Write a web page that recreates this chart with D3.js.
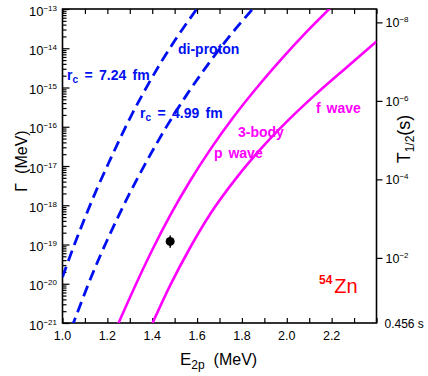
<!DOCTYPE html>
<html>
<head>
<meta charset="utf-8">
<script src="https://cdn.jsdelivr.net/npm/d3@7"></script>
<style>
  body { margin: 0; background: #fff; }
  svg { display: block; font-family: "Liberation Sans", Arial, sans-serif; }
  text { white-space: pre; }
</style>
</head>
<body>
<div id="chart"></div>
<script>
// E_2p (MeV) and log10 of Gamma (MeV)
const dip724E    = [1.00, 1.02, 1.06, 1.10, 1.15, 1.21, 1.30, 1.38, 1.44, 1.50, 1.60];
const dip724LogG = [-19.83, -19.51, -18.90, -18.32, -17.63, -16.87, -15.79, -14.94, -14.35, -13.81, -12.99];

const dip499E    = [1.04, 1.06, 1.09, 1.14, 1.20, 1.25, 1.30, 1.38, 1.47, 1.55, 1.64, 1.73, 1.86];
const dip499LogG = [-21.13, -20.83, -20.38, -19.66, -18.88, -18.27, -17.69, -16.83, -15.94, -15.22, -14.48, -13.80, -12.92];

const pWaveE    = [1.24, 1.25, 1.33, 1.40, 1.48, 1.57, 1.66, 1.76, 1.88, 1.98, 2.07, 2.20];
const pWaveLogG = [-21.13, -21.00, -19.98, -19.14, -18.26, -17.37, -16.57, -15.77, -14.91, -14.25, -13.69, -12.94];

const fWaveE    = [1.40, 1.48, 1.57, 1.66, 1.78, 1.88, 2.00, 2.12, 2.27, 2.40];
const fWaveLogG = [-21.02, -20.04, -19.07, -18.21, -17.27, -16.59, -15.87, -15.22, -14.47, -13.83];

// measured point for 54Zn
const zn54E = [1.48];
const zn54G = [1.2e-19];
const zn54GLow = [8.3e-20];
const zn54GHigh = [1.7e-19];

// axis ticks
const xTickLabels = [1.0, 1.2, 1.4, 1.6, 1.8, 2.0, 2.2];
const xMinorTicks = d3.range(10, 25).map(d => d / 10);
const yDecades = [-21, -20, -19, -18, -17, -16, -15, -14, -13];
const tHalfExp = [-8, -6, -4, -2];      // log10 T1/2 (s) on the right axis
const tHalfAtBottom = "0.456 s";
const hbarLn2 = 4.562e-22;             // MeV s, Gamma = hbar ln2 / T1/2

// Set dimensions
const margin = { top: 9, right: 51.5, bottom: 53, left: 62.5 };
const totalW = 428, totalH = 376;
const width = totalW - margin.left - margin.right;
const height = totalH - margin.top - margin.bottom;

const svg = d3.select("#chart")
  .append("svg")
  .attr("width", totalW)
  .attr("height", totalH);

const g = svg.append("g")
  .attr("transform", `translate(${margin.left},${margin.top})`);

// Set up scales
const x = d3.scaleLinear().domain([1.0, 2.4]).range([0, width]);
const y = d3.scaleLog().domain([1e-21, 1e-13]).range([height, 0]);

g.append("clipPath").attr("id", "clip")
  .append("rect").attr("width", width).attr("height", height);

// Minor ticks on the log axis
const yMinor = [];
yDecades.slice(0, -1).forEach(e => {
  for (let k = 2; k <= 9; k++) yMinor.push(k * Math.pow(10, e));
});

// Axes (ticks only, labels drawn by hand for the superscripts)
function plainAxis(sel) {
  sel.select(".domain").remove();
  sel.selectAll(".tick text").remove();
  sel.selectAll(".tick line").attr("stroke", "#000").attr("stroke-width", 1.2);
}

g.append("g").attr("transform", `translate(0,${height})`)
  .call(d3.axisBottom(x).tickValues(xMinorTicks).tickSize(-5)).call(plainAxis);
g.append("g")
  .call(d3.axisTop(x).tickValues(xMinorTicks).tickSize(-5)).call(plainAxis);
g.append("g")
  .call(d3.axisLeft(y).tickValues(yDecades.map(e => Math.pow(10, e))).tickSize(-7)).call(plainAxis);
g.append("g")
  .call(d3.axisLeft(y).tickValues(yMinor).tickSize(-4)).call(plainAxis);
g.append("g").attr("transform", `translate(${width},0)`)
  .call(d3.axisRight(y).tickValues(tHalfExp.map(e => hbarLn2 / Math.pow(10, e))).tickSize(6)).call(plainAxis);

// frame
g.append("rect")
  .attr("width", width).attr("height", height)
  .attr("fill", "none").attr("stroke", "#000").attr("stroke-width", 1.6);

// x tick labels
g.selectAll(".xlab").data(xTickLabels).enter()
  .append("text")
  .attr("x", d => x(d)).attr("y", height + 17)
  .attr("text-anchor", "middle")
  .attr("font-size", 12.5)
  .text(d => d.toFixed(1));

// y tick labels 10^n
yDecades.forEach(e => {
  const t = g.append("text")
    .attr("x", -5.5).attr("y", y(Math.pow(10, e)) + 6.5)
    .attr("text-anchor", "end")
    .attr("font-size", 13);
  t.append("tspan").text("10");
  t.append("tspan").attr("dy", -5).attr("font-size", 8).text("\u2212" + Math.abs(e));
});

// right axis labels
tHalfExp.forEach(e => {
  const t = g.append("text")
    .attr("x", width + 9).attr("y", y(hbarLn2 / Math.pow(10, e)) + 5)
    .attr("font-size", 12.5);
  t.append("tspan").text("10");
  t.append("tspan").attr("dy", -5).attr("font-size", 8).text("\u2212" + Math.abs(e));
});
g.append("text")
  .attr("x", width + 8).attr("y", height + 4.5)
  .attr("font-size", 12)
  .text(tHalfAtBottom);

// axis titles
const xt = svg.append("text")
  .attr("x", 180).attr("y", 365)
  .attr("font-size", 17);
xt.append("tspan").text("E");
xt.append("tspan").attr("dy", 4).attr("font-size", 12).text("2p");
xt.append("tspan").attr("dy", -4).attr("font-size", 16).text("  (MeV)");

svg.append("text")
  .attr("transform", "translate(27,161) rotate(-90)")
  .attr("text-anchor", "middle")
  .attr("font-size", 16)
  .text("\u0393  (MeV)");

const yt = svg.append("text")
  .attr("transform", "translate(410,139) rotate(-90)")
  .attr("text-anchor", "middle")
  .attr("font-size", 18);
yt.append("tspan").text("T");
yt.append("tspan").attr("dy", 4).attr("font-size", 12).text("1/2");
yt.append("tspan").attr("dy", -4).text("(s)");

// curves
const line = d3.line()
  .x(d => x(d[0]))
  .y(d => y(Math.pow(10, d[1])))
  .curve(d3.curveMonotoneX);

const curves = [
  { E: dip724E, L: dip724LogG, color: "#0010f0", dash: "11,6", w: 2.8 },
  { E: dip499E, L: dip499LogG, color: "#0010f0", dash: "11,6", w: 2.8 },
  { E: pWaveE, L: pWaveLogG, color: "#ff00ff", dash: null, w: 2.6 },
  { E: fWaveE, L: fWaveLogG, color: "#ff00ff", dash: null, w: 2.6 }
];

const plot = g.append("g").attr("clip-path", "url(#clip)");
curves.forEach(c => {
  plot.append("path")
    .datum(c.E.map((e, i) => [e, c.L[i]]))
    .attr("fill", "none")
    .attr("stroke", c.color)
    .attr("stroke-width", c.w)
    .attr("stroke-dasharray", c.dash)
    .attr("d", line);
});

// data point with error bar
plot.selectAll(".err").data(zn54E).enter()
  .append("line")
  .attr("x1", d => x(d)).attr("x2", d => x(d))
  .attr("y1", (d, i) => y(zn54GLow[i])).attr("y2", (d, i) => y(zn54GHigh[i]))
  .attr("stroke", "#000").attr("stroke-width", 1.5);
plot.selectAll(".pt").data(zn54E).enter()
  .append("circle")
  .attr("cx", d => x(d)).attr("cy", (d, i) => y(zn54G[i]))
  .attr("r", 4.5).attr("fill", "#000");

// labels inside the plot
function rcLabel(px, py, value) {
  const t = svg.append("text")
    .attr("x", px).attr("y", py)
    .attr("font-size", 14).attr("font-weight", "bold")
    .attr("fill", "#0010f0")
    .attr("word-spacing", 2.5);
  t.append("tspan").text("r");
  t.append("tspan").attr("dy", 3).attr("font-size", 10).text("c");
  t.append("tspan").attr("dy", -3).text(" = " + value + " fm");
}
rcLabel(67, 80, "7.24");
rcLabel(140, 118, "4.99");

svg.append("text")
  .attr("x", 178).attr("y", 54)
  .attr("font-size", 14).attr("font-weight", "bold")
  .attr("fill", "#0010f0")
  .text("di-proton");

svg.append("text")
  .attr("x", 238).attr("y", 137)
  .attr("font-size", 14).attr("font-weight", "bold")
  .attr("fill", "#ff00ff")
  .text("3-body");

svg.append("text")
  .attr("x", 214).attr("y", 158)
  .attr("font-size", 14).attr("font-weight", "bold")
  .attr("fill", "#ff00ff")
  .attr("word-spacing", 2)
  .text("p wave");

svg.append("text")
  .attr("x", 316).attr("y", 113)
  .attr("font-size", 14).attr("font-weight", "bold")
  .attr("fill", "#ff00ff")
  .attr("word-spacing", 2)
  .text("f wave");

const zn = svg.append("text")
  .attr("x", 319).attr("y", 293)
  .attr("fill", "#ff0000");
zn.append("tspan").attr("dy", -9).attr("font-size", 12).attr("font-weight", "bold").text("54");
zn.append("tspan").attr("dy", 9).attr("dx", 2).attr("font-size", 20).text("Zn");
</script>
</body>
</html>
